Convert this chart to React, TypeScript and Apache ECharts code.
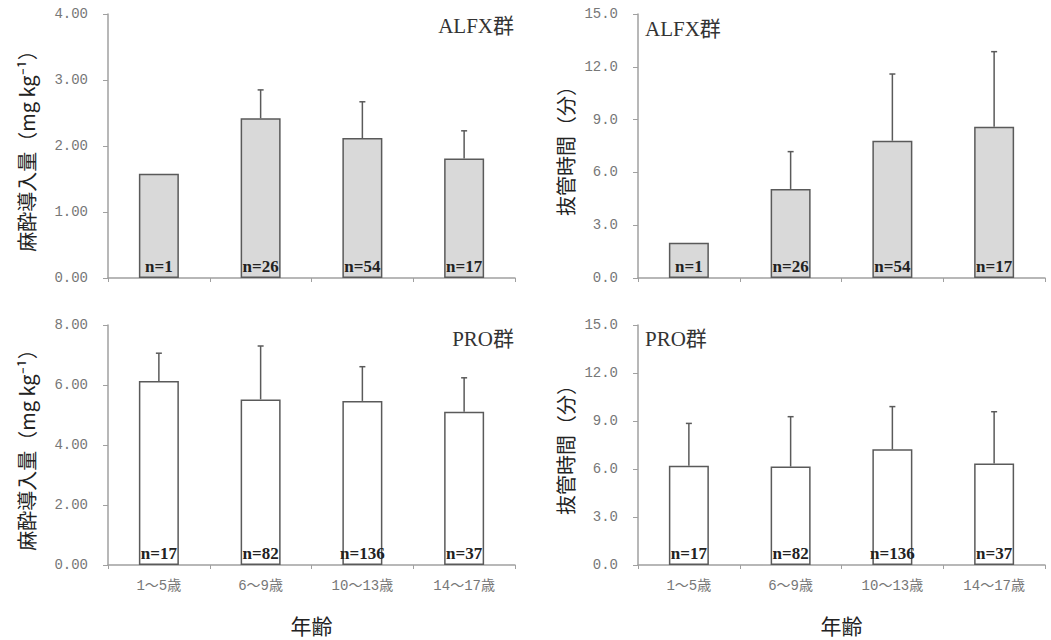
import React, { useEffect, useRef } from "react";
import * as echarts from "echarts";

const categories = ["1～5歳", "6～9歳", "10～13歳", "14～17歳"];

const alfxDoseMean = [1.58, 2.42, 2.12, 1.81];
const alfxDoseSD = [0, 0.43, 0.55, 0.42];
const alfxDoseN = ["n=1", "n=26", "n=54", "n=17"];

const alfxTimeMean = [2.0, 5.06, 7.8, 8.6];
const alfxTimeSD = [0, 2.12, 3.79, 4.26];
const alfxTimeN = ["n=1", "n=26", "n=54", "n=17"];

const proDoseMean = [6.13, 5.52, 5.47, 5.11];
const proDoseSD = [0.93, 1.78, 1.14, 1.13];
const proDoseN = ["n=17", "n=82", "n=136", "n=37"];

const proTimeMean = [6.21, 6.15, 7.23, 6.35];
const proTimeSD = [2.64, 3.12, 2.67, 3.23];
const proTimeN = ["n=17", "n=82", "n=136", "n=37"];

const doseTitle = "麻酔導入量（mg kg⁻¹）";
const timeTitle = "抜管時間（分）";
const xTitle = "年齢";

export default function App() {
  const ref = useRef<HTMLDivElement>(null);
  useEffect(() => {
    const chart = echarts.init(ref.current!, null, { renderer: "svg" });

    const panels = [
      { grid: { left: 108, top: 14, width: 407, height: 264 }, mean: alfxDoseMean, sd: alfxDoseSD, n: alfxDoseN, max: 4, interval: 1, dec: 2, yName: doseTitle, nameGap: 72, fill: "#d9d9d9", showX: false },
      { grid: { left: 638, top: 14, width: 407, height: 264 }, mean: alfxTimeMean, sd: alfxTimeSD, n: alfxTimeN, max: 15, interval: 3, dec: 1, yName: timeTitle, nameGap: 63, fill: "#d9d9d9", showX: false },
      { grid: { left: 108, top: 325, width: 407, height: 240 }, mean: proDoseMean, sd: proDoseSD, n: proDoseN, max: 8, interval: 2, dec: 2, yName: doseTitle, nameGap: 72, fill: "#ffffff", showX: true },
      { grid: { left: 638, top: 325, width: 407, height: 240 }, mean: proTimeMean, sd: proTimeSD, n: proTimeN, max: 15, interval: 3, dec: 1, yName: timeTitle, nameGap: 63, fill: "#ffffff", showX: true },
    ];

    const axisColor = "#a0a0a0";
    const labelColor = "#777";
    const groupFont = { fontSize: 21, fill: "#333", fontFamily: "Liberation Serif, Noto Sans CJK JP" };

    const option: any = {
      animation: false,
      backgroundColor: "#ffffff",
      grid: panels.map((p) => ({ ...p.grid, containLabel: false })),
      xAxis: panels.map((p, i) => ({
        type: "category",
        gridIndex: i,
        data: categories,
        axisLine: { lineStyle: { color: axisColor, width: 1.5 } },
        axisTick: { show: true, length: 4, lineStyle: { color: axisColor } },
        axisLabel: {
          show: p.showX,
          margin: 14,
          color: labelColor,
          fontSize: 14,
          fontFamily: "Liberation Mono, Noto Sans CJK JP",
        },
        name: p.showX ? xTitle : "",
        nameLocation: "middle",
        nameGap: 49,
        nameTextStyle: { fontSize: 21, color: "#222", fontFamily: "Noto Sans CJK JP" },
      })),
      yAxis: panels.map((p, i) => ({
        type: "value",
        gridIndex: i,
        min: 0,
        max: p.max,
        interval: p.interval,
        splitLine: { show: false },
        axisLine: { show: true, lineStyle: { color: axisColor, width: 1.5 } },
        axisTick: { show: true, length: 5, lineStyle: { color: axisColor } },
        axisLabel: {
          margin: 20,
          color: labelColor,
          fontSize: 14,
          fontFamily: "Liberation Mono",
          formatter: (v: number) => v.toFixed(p.dec),
        },
        name: p.yName,
        nameLocation: "middle",
        nameRotate: 90,
        nameGap: p.nameGap,
        nameTextStyle: { fontSize: 20, color: "#222", fontFamily: "Noto Sans CJK JP" },
      })),
      series: [
        ...panels.map((p, i) => ({
          type: "bar",
          xAxisIndex: i,
          yAxisIndex: i,
          barWidth: 40,
          data: p.mean,
          itemStyle: { color: p.fill, borderColor: "#5a5a5a", borderWidth: 1.5 },
          label: {
            show: true,
            position: "insideBottom",
            distance: 3,
            formatter: (params: any) => p.n[params.dataIndex],
            color: "#222",
            fontSize: 17,
            fontWeight: "bold",
            fontFamily: "Liberation Serif",
          },
        })),
        ...panels.map((p, i) => ({
          type: "custom",
          xAxisIndex: i,
          yAxisIndex: i,
          z: 3,
          encode: { x: 0, y: 1 },
          data: p.mean.map((m, j) => [j, m, p.sd[j]]),
          renderItem: (params: any, api: any) => {
            const idx = api.value(0);
            const m = api.value(1);
            const s = api.value(2);
            if (!s) return null;
            const base = api.coord([idx, m]);
            const top = api.coord([idx, m + s]);
            const st = { stroke: "#5a5a5a", lineWidth: 1.5 };
            return {
              type: "group",
              children: [
                { type: "line", shape: { x1: base[0], y1: base[1], x2: top[0], y2: top[1] }, style: st },
                { type: "line", shape: { x1: top[0] - 3, y1: top[1], x2: top[0] + 3, y2: top[1] }, style: st },
              ],
            };
          },
        })),
      ],
      graphic: [
        { type: "text", right: 1051 - 514, top: 15, style: { text: "ALFX群", ...groupFont } },
        { type: "text", left: 645, top: 18, style: { text: "ALFX群", ...groupFont } },
        { type: "text", right: 1051 - 514, top: 328, style: { text: "PRO群", ...groupFont } },
        { type: "text", left: 645, top: 328, style: { text: "PRO群", ...groupFont } },
      ],
    };

    chart.setOption(option);
    return () => chart.dispose();
  }, []);
  return (
    <div
      ref={ref}
      style={{ position: "absolute", left: 0, top: 0, width: 1051, height: 640, background: "#fff" }}
    />
  );
}
